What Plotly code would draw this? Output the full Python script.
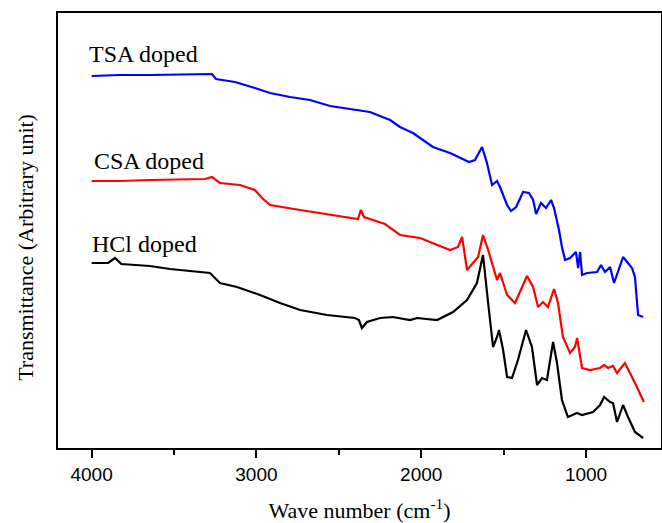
import plotly.graph_objects as go

# Wavenumber (cm^-1) and transmittance (arbitrary units)
tsa_x = [4000, 3828, 3646, 3464, 3294, 3270, 3245, 3130, 3009, 2917, 2796, 2675, 2553, 2432, 2311,
         2220, 2189, 2129, 2050, 1929, 1825, 1710, 1674, 1631, 1601, 1570, 1540, 1522, 1479, 1455,
         1424, 1382, 1346, 1321, 1303, 1273, 1243, 1212, 1194, 1164, 1146, 1127, 1097, 1061, 1048,
         1036, 1024, 994, 933, 909, 885, 854, 830, 775, 739, 721, 703, 684, 654]
tsa_y = [372, 373, 373, 373.5, 374.5, 374, 369, 366, 360, 355, 351, 348, 342, 339, 336,
         330, 328, 321, 315, 301, 295, 286, 288, 301, 285, 263, 267, 261, 243, 237,
         241, 256, 255, 248, 234, 245, 240, 248, 240, 218, 201, 188, 190, 196, 180,
         196, 173, 175, 176, 183, 176, 181, 165, 191, 183, 180, 171, 133, 131]

csa_x = [4000, 3828, 3646, 3464, 3312, 3270, 3221, 3100, 3009, 2966, 2917, 2735, 2493, 2384, 2366,
         2347, 2220, 2129, 2007, 1825, 1777, 1752, 1722, 1655, 1625, 1594, 1540, 1522, 1479, 1431,
         1358, 1321, 1291, 1261, 1231, 1194, 1170, 1140, 1097, 1067, 1054, 1036, 1024, 976, 915,
         890, 866, 836, 812, 764, 733, 691, 649]
csa_y = [267, 267, 268, 268.5, 269, 271, 265, 263, 258, 250, 243, 238, 232, 229, 238,
         231, 224, 213, 210, 198, 201, 211, 178, 191, 213, 198, 168, 175, 153, 145,
         172, 161, 141, 146, 141, 159, 145, 111, 95, 101, 110, 91, 80, 78, 80,
         83, 80, 82, 75, 85, 75, 61, 46]

hcl_x = [4000, 3900, 3858, 3820, 3646, 3524, 3282, 3221, 3118, 2978, 2857, 2735, 2572, 2402, 2378,
         2360, 2329, 2250, 2172, 2068, 2025, 1904, 1807, 1722, 1662, 1625, 1594, 1564, 1540, 1528,
         1503, 1479, 1449, 1413, 1364, 1328, 1297, 1267, 1237, 1200, 1176, 1146, 1110, 1055, 1024,
         957, 915, 890, 854, 836, 812, 775, 745, 703, 654]
hcl_y = [185, 185, 190, 184, 182, 179, 175, 165, 161, 153, 145, 138, 133, 130, 128,
         120, 126, 130, 131, 128, 130, 128, 136, 148, 165, 193, 145, 101, 111, 118,
         98, 71, 70, 88, 118, 101, 63, 70, 68, 106, 85, 48, 31, 35, 33,
         36, 43, 51, 46, 45, 26, 43, 31, 16, 10]

labels = ["TSA doped", "CSA doped", "HCl doped"]
label_x = [4028, 4000, 4010]
label_y = [394, 287, 204]

x_ticks = [4000, 3000, 2000, 1000]

fig = go.Figure()
for xs, ys, col in [(tsa_x, tsa_y, "#0000ff"), (csa_x, csa_y, "#ff0000"), (hcl_x, hcl_y, "#000000")]:
    fig.add_trace(go.Scatter(x=xs, y=ys, mode="lines", line=dict(color=col, width=2.2),
                             showlegend=False, hoverinfo="skip"))

for t, lx, ly in zip(labels, label_x, label_y):
    fig.add_annotation(x=lx, y=ly, text=t, showarrow=False, xanchor="left", yanchor="middle",
                       font=dict(family="Liberation Serif", size=24, color="black"))

# y-axis title (placed slightly below the plot centre, as in the reference)
fig.add_annotation(xref="paper", yref="paper", x=-0.055, y=0.462, text="Transmittance (Arbitrary unit)",
                   textangle=-90, showarrow=False, xanchor="center", yanchor="middle",
                   font=dict(family="Liberation Serif", size=22, color="black"))

fig.update_layout(
    width=662, height=523,
    margin=dict(l=58, r=1, t=13, b=75),
    paper_bgcolor="white", plot_bgcolor="white",
    xaxis=dict(range=[4204, 545], showgrid=False, zeroline=False, automargin=False,
               showline=True, mirror=True, linecolor="black", linewidth=2,
               tickmode="array", tickvals=x_ticks, ticktext=[str(v) for v in x_ticks],
               ticks="outside", ticklen=8, tickwidth=1.5, tickcolor="black",
               minor=dict(tickvals=[3500, 2500, 1500], ticks="outside", ticklen=5,
                          tickwidth=1.5, tickcolor="black"),
               tickfont=dict(family="Liberation Sans", size=19, color="black"),
               title=dict(text="Wave number (cm<sup>-1</sup>)", standoff=20,
                          font=dict(family="Liberation Serif", size=22, color="black"))),
    yaxis=dict(range=[0, 435], showgrid=False, zeroline=False, showticklabels=False,
               automargin=False,
               showline=True, mirror=True, linecolor="black", linewidth=2, ticks=""),
)

fig.write_html("out.html")
